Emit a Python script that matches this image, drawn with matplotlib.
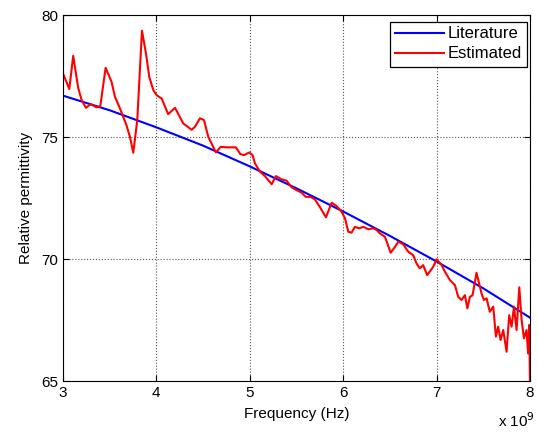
import matplotlib
matplotlib.use("Agg")
import matplotlib.pyplot as plt

plt.rcParams['font.family'] = ['Liberation Sans', 'DejaVu Sans']

# frequency in units of 1e9 Hz
lit_freq = [3.0, 3.5, 4.0, 4.5, 5.0, 5.5, 6.0, 6.5, 7.0, 7.5, 8.0]
lit_eps = [76.7, 76.1, 75.4, 74.65, 73.8, 72.9, 71.95, 70.95, 69.9, 68.8, 67.6]

est_freq = [3.0, 3.068, 3.11, 3.164, 3.2, 3.246, 3.296, 3.36, 3.40, 3.457,
            3.52, 3.557, 3.61, 3.68, 3.717, 3.753, 3.796, 3.846, 3.889, 3.924,
            3.967, 4.003, 4.057, 4.127, 4.2, 4.288, 4.378, 4.413, 4.467, 4.51,
            4.556, 4.638, 4.688, 4.753, 4.852, 4.9, 4.94, 4.995, 5.03, 5.056,
            5.11, 5.163, 5.235, 5.28, 5.34, 5.395, 5.449, 5.50, 5.556, 5.6,
            5.65, 5.697, 5.75, 5.816, 5.877, 5.93, 5.984, 6.02, 6.055, 6.09,
            6.126, 6.172, 6.215, 6.27, 6.322, 6.36, 6.394, 6.448, 6.509, 6.555,
            6.59, 6.643, 6.697, 6.75, 6.786, 6.82, 6.857, 6.9, 6.964, 7.0,
            7.055, 7.09, 7.143, 7.197, 7.232, 7.268, 7.304, 7.33, 7.357, 7.386,
            7.428, 7.456, 7.482, 7.507, 7.536, 7.57, 7.607, 7.636, 7.66, 7.686,
            7.714, 7.75, 7.778, 7.804, 7.829, 7.857, 7.886, 7.911, 7.936, 7.964,
            7.98, 7.993, 8.0]
est_eps = [77.61, 76.97, 78.33, 77.0, 76.52, 76.2, 76.35, 76.22, 76.27, 77.84,
           77.27, 76.65, 76.18, 75.49, 75.01, 74.36, 75.7, 79.36, 78.43, 77.47,
           76.93, 76.72, 76.58, 75.94, 76.2, 75.56, 75.3, 75.42, 75.77, 75.7,
           75.01, 74.37, 74.6, 74.58, 74.58, 74.3, 74.26, 74.37, 74.26, 73.92,
           73.58, 73.4, 73.07, 73.4, 73.27, 73.21, 72.94, 72.83, 72.72, 72.55,
           72.55, 72.45, 72.14, 71.71, 72.31, 72.17, 71.94, 71.67, 71.12, 71.08,
           71.32, 71.26, 71.32, 71.22, 71.26, 71.19, 71.05, 70.91, 70.26, 70.5,
           70.71, 70.61, 70.3, 70.16, 69.82, 69.62, 69.75, 69.34, 69.68, 69.99,
           69.75, 69.48, 69.14, 68.93, 68.45, 68.32, 68.52, 67.98, 68.45, 68.52,
           69.44, 69.0, 68.59, 68.32, 68.39, 67.84, 68.05, 66.82, 67.23, 66.68,
           67.09, 66.2, 67.7, 67.23, 68.05, 67.09, 68.84, 67.5, 66.75, 67.09,
           66.13, 67.3, 65.0]

fig = plt.figure(figsize=(5.38, 4.32), dpi=100)
ax = fig.add_axes([0.117, 0.118, 0.868, 0.847])

ax.plot(lit_freq, lit_eps, color='#0000ff', lw=1.5, label='Literature')
ax.plot(est_freq, est_eps, color='#ff0000', lw=1.5, label='Estimated')

ax.set_xlim(3, 8)
ax.set_ylim(65, 80)
ax.set_xticks([3, 4, 5, 6, 7, 8])
ax.set_yticks([65, 70, 75, 80])
ax.grid(True, linestyle=':', color='#555555', lw=0.8)
ax.tick_params(direction='in', top=True, right=True, labelsize=11, length=4)
for s in ax.spines.values():
    s.set_linewidth(0.8)

ax.set_xlabel('Frequency (Hz)', fontsize=11, labelpad=5)
ax.set_ylabel('Relative permittivity', fontsize=11, labelpad=6)
fig.text(0.925, 0.004, r'x 10$^{9}$', fontsize=11, ha='left', va='bottom')

leg = ax.legend(loc='upper right', bbox_to_anchor=(527 / 538, 1 - 21.5 / 432),
                bbox_transform=fig.transFigure, fontsize=12, fancybox=False,
                framealpha=1, edgecolor='black', handlelength=2.9,
                handletextpad=0.25, borderaxespad=0, borderpad=0.3,
                labelspacing=0.3)
leg.get_frame().set_linewidth(0.9)

fig.savefig('out.png', dpi=100)
